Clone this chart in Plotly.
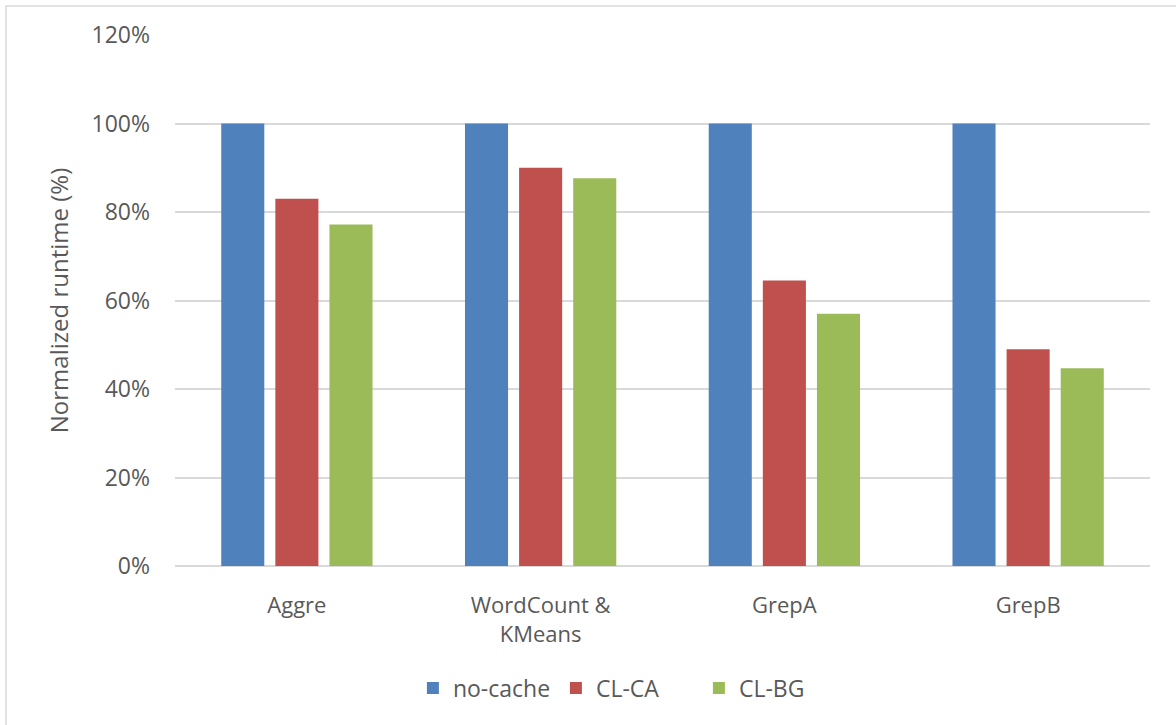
import plotly.graph_objects as go

categories = ["Aggre", "WordCount &<br>KMeans", "GrepA", "GrepB"]
series_names = ["no-cache", "CL-CA", "CL-BG"]
no_cache = [100, 100, 100, 100]
cl_ca = [83.0, 90.0, 64.5, 49.0]
cl_bg = [77.2, 87.6, 57.0, 44.7]
colors = ["#4F81BD", "#C0504D", "#9BBB59"]
tick_vals = [0, 20, 40, 60, 80, 100, 120]
tick_text = ["0%", "20%", "40%", "60%", "80%", "100%", "120%"]

FONT = "Open Sans"
fig = go.Figure()
for name, vals, col in zip(series_names, [no_cache, cl_ca, cl_bg], colors):
    fig.add_trace(go.Bar(x=categories, y=vals, name=name,
                         marker=dict(color=col, line=dict(width=0))))

fig.update_layout(
    width=1176, height=725,
    margin=dict(l=175, r=26, t=35, b=159),
    paper_bgcolor="white", plot_bgcolor="white",
    barmode="group", bargap=0.334, bargroupgap=0.204,
    font=dict(family=FONT, size=22, color="#595959"),
    showlegend=True,
    legend=dict(orientation="h", x=0.244, xanchor="left", y=-0.23, yanchor="middle",
                font=dict(size=23, color="#595959"), traceorder="normal",
                entrywidth=98, entrywidthmode="pixels"),
    xaxis=dict(showgrid=False, showline=False, zeroline=False,
               ticks="", ticklabelstandoff=24,
               tickfont=dict(size=22, color="#595959")),
    yaxis=dict(range=[0, 120], tickvals=tick_vals, ticktext=tick_text,
               showgrid=True, gridcolor="#D9D9D9", gridwidth=1.5,
               zeroline=True, zerolinecolor="#D9D9D9", zerolinewidth=2,
               showline=False, ticks="", ticklabelstandoff=24,
               tickfont=dict(size=23, color="#595959"),
               title=dict(text="Normalized runtime (%)", standoff=16,
                          font=dict(size=24, color="#595959"))),
    shapes=[dict(type="rect", xref="paper", yref="paper",
                 x0=(6 - 175) / 975, x1=(1190 - 175) / 975,
                 y0=(566 - 740) / 531, y1=(566 - 6) / 531,
                 line=dict(color="#D9D9D9", width=1.5), fillcolor="rgba(0,0,0,0)",
                 layer="below")],
)

fig.write_html("out.html")
